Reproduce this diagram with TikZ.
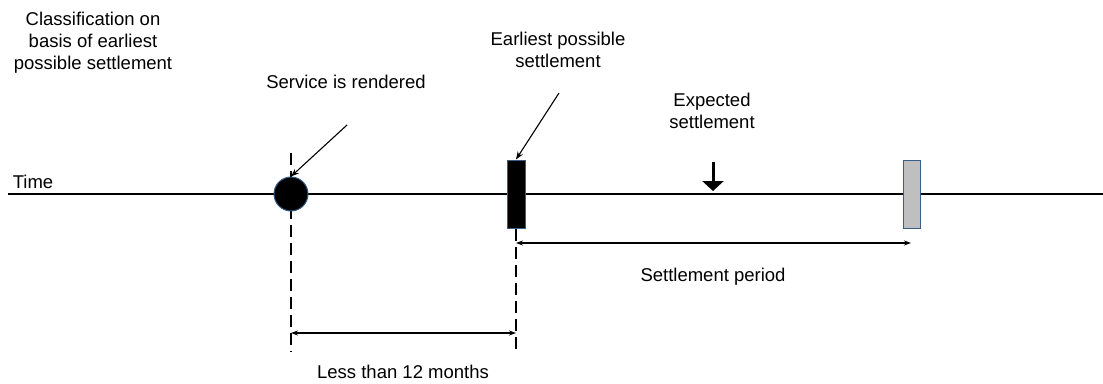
\documentclass[tikz,border=0pt]{standalone}
\usepackage{fontspec}
\setmainfont{Liberation Sans}
\usetikzlibrary{arrows.meta}
\definecolor{rimblue}{RGB}{56,93,138}
\tikzset{
  x=1pt, y=-1pt,
  lbl/.style={inner sep=0pt, align=center, anchor=base, font=\fontsize{18.5}{22}\selectfont},
  thin line/.style={line width=1.1pt},
  dashline/.style={line width=1.1pt, dash pattern=on 12pt off 6pt},
  pointer/.style={line width=1.1pt, -{Stealth[length=8pt,width=6pt]}},
  span/.style={line width=1.1pt, {Stealth[length=7pt,width=5pt]}-{Stealth[length=7pt,width=5pt]}},
  bar/.style={draw=rimblue, line width=1pt, minimum width=18pt, minimum height=68pt, inner sep=0pt}
}
\begin{document}
\begin{tikzpicture}
\useasboundingbox (0,0) rectangle (1103,383);
% timeline
\coordinate (tl) at (8,194);
\coordinate (tr) at (1103,194);
\draw[thin line] (tl) -- (tr);
% dashed guides
\coordinate (g1t) at (291,153);
\coordinate (g1b) at (291,352);
\coordinate (g2b) at (516,352);
\draw[dashline] (g1t) -- (g1b);
% marks
\node[circle, fill=black, draw=rimblue, line width=1pt, minimum size=34pt, inner sep=0pt] (svc) at (291,194) {};
\node[bar, fill=black] (eps) at (516,194) {};
\node[bar, fill=black!25, minimum width=17pt] (lat) at (911.5,194) {};
\draw[dashline] (eps.south) -- (g2b);
% labels (base = baseline of last line)
\node[lbl] (cls) at (93,69) {Classification on\\basis of earliest\\possible settlement};
\node[lbl] (tim) at (33,188) {Time};
\node[lbl] (svct) at (346,88) {Service is rendered};
\node[lbl] (epst) at (558,67) {Earliest possible\\settlement};
\node[lbl] (expt) at (712,128) {Expected\\settlement};
\node[lbl] (spt) at (713,281) {Settlement period};
\node[lbl] (ltt) at (403,378) {Less than 12 months};
% pointers
\coordinate (p1) at (347,125);
\coordinate (p2) at (559,93);
\draw[pointer] (p1) -- (svc.north);
\draw[pointer] (p2) -- (eps.north);
\coordinate (e1) at (713,162);
\coordinate (e2) at (713,191);
\draw[line width=3pt, -{Triangle[width=21pt,length=10pt]}] (e1) -- (e2);
% spans
\coordinate (s1) at (516,243);
\coordinate (s2) at (911,243);
\draw[span] (s1) -- (s2);
\coordinate (l1) at (291,333);
\coordinate (l2) at (516,333);
\draw[span] (l1) -- (l2);
\end{tikzpicture}
\end{document}
